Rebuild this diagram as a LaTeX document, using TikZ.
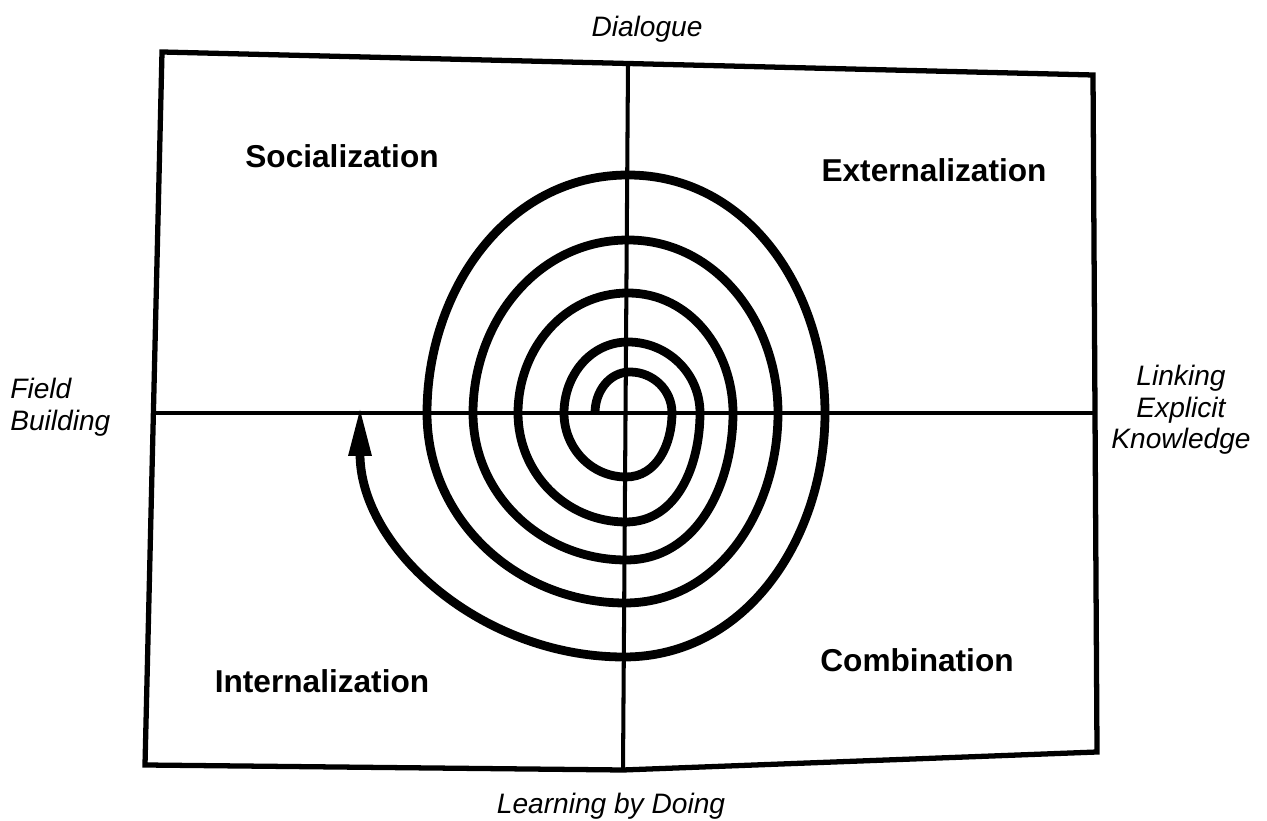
\documentclass[tikz,border=0pt]{standalone}
\usepackage{fontspec}
\setmainfont{Liberation Sans}
\usetikzlibrary{arrows.meta,positioning}

\begin{document}
\begin{tikzpicture}[x=0.02cm,y=0.02cm,
	frame/.style={line width=3pt},
	axis/.style={line width=2.3pt},
	spiral/.style={line width=5pt},
	mode/.style={font=\fontsize{18}{21}\selectfont\bfseries,inner sep=0pt,anchor=base},
	side/.style={font=\fontsize{16}{18}\selectfont\itshape,inner sep=0pt}]
	\useasboundingbox (0,0) rectangle (1267,821);
	% Draw the frame
	\draw [frame] (162,769) coordinate (f_1) -- (1093,746) coordinate (f_2)
	-- (1097,69) coordinate (f_3) -- (623,51) coordinate (f_4)
	-- (145,56) coordinate (f_5) -- cycle;
	% Draw the two axes
	\coordinate (top) at (628,758);
	\coordinate (bottom) at (623,51);
	\coordinate (left) at (153,408);
	\coordinate (right) at (1095,408);
	\draw [axis] (top) -- (bottom);
	\draw [axis] (left) -- (right);
	% Draw the spiral from the centre outwards
	\coordinate (s_0) at (595,408);
	\coordinate (s_end) at (360,415);
	\draw [spiral,-{Triangle[length=1cm,width=0.42cm]}] (s_0)
	to[out=90,in=180] (630,449) to[out=0,in=90] (672,408)
	to[out=-90,in=0] (626,344) to[out=180,in=-90] (564,408)
	to[out=90,in=180] (628,479) to[out=0,in=90] (700,408)
	to[out=-90,in=0] (626,299) to[out=180,in=-90] (518,408)
	to[out=90,in=180] (628,528) to[out=0,in=90] (733,408)
	to[out=-90,in=0] (626,261) to[out=180,in=-90] (473,408)
	to[out=90,in=180] (628,581) to[out=0,in=90] (778,408)
	to[out=-90,in=0] (625,218) to[out=180,in=-90] (427,408)
	to[out=90,in=180] (628,646) to[out=0,in=90] (825,408)
	to[out=-90,in=0] (624,164) to[out=180,in=-90] (s_end);
	% Modes in the four quadrants
	\node [mode] (soc) at (342,653) {Socialization};
	\node [mode] (ext) at (934,639) {Externalization};
	\node [mode] (int) at (322,128) {Internalization};
	\node [mode] (com) at (917,149) {Combination};
	% Triggers on the four sides
	\node [side,anchor=base] (dia) at (647,784) {Dialogue};
	\node [side,anchor=base] (lbd) at (611,8) {Learning by Doing};
	\node [side,anchor=north west,align=left] (fb) at (10,443) {Field\\Building};
	\node [side,anchor=north,align=center] (lek) at (1181,456) {Linking\\Explicit\\Knowledge};
\end{tikzpicture}
\end{document}
